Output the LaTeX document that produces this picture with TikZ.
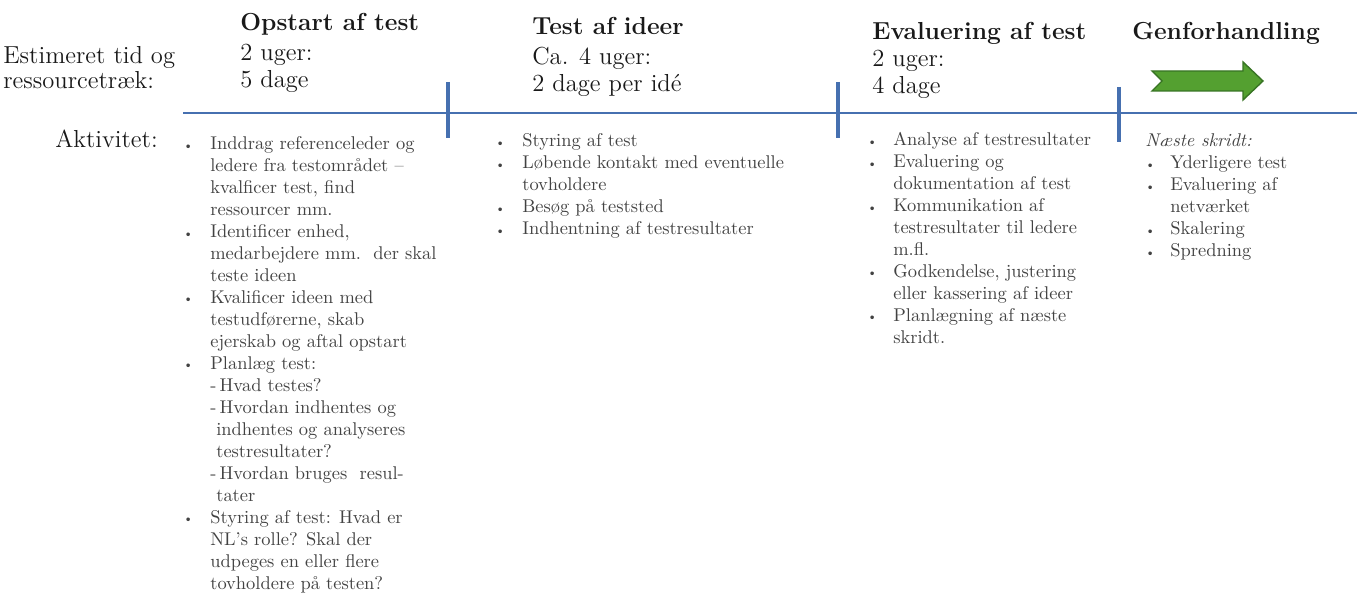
\documentclass[tikz,border=0pt]{standalone}
\usepackage{tikz}
\usetikzlibrary{positioning}

\definecolor{tlblue}{RGB}{70,112,176}
\definecolor{bodygrey}{RGB}{66,66,66}
\definecolor{arrgreen}{RGB}{84,160,48}
\definecolor{arrdark}{RGB}{56,116,36}

\newcommand{\bul}{\makebox[0.2cm]{\raisebox{0.1ex}{\scriptsize\textbullet}}}

\begin{document}
\begin{tikzpicture}[x=0.02cm, y=-0.02cm,
  hd/.style={anchor=base west, inner sep=0pt, text=black!90,
    font=\fontsize{14}{15.9}\selectfont\bfseries},
  tm/.style={anchor=base west, inner sep=0pt, align=left, text=black!90,
    font=\fontsize{14}{15.9}\selectfont},
  act/.style={anchor=base west, inner sep=0pt, text=bodygrey,
    font=\fontsize{10.5}{12.5}\selectfont},
  axis/.style={draw=tlblue, line width=1.6pt},
  tick/.style={draw=tlblue, line width=1.9pt}
]
\useasboundingbox (0,0) rectangle (1357,601);

% multi-line nodes sit on their last baseline
\node[tm, font=\fontsize{14}{14.7}\selectfont] (tidlbl) at (3,89)
  {Estimeret tid og\\ressourcetræk:};
\node[tm] (aktlbl) at (55,148) {Aktivitet:};

\node[hd] (headA) at (240,31) {Opstart af test};
\node[tm] (timeA) at (240,88) {2 uger:\\5 dage};
\node[hd] (headB) at (532,35) {Test af ideer};
\node[tm] (timeB) at (532,92) {Ca. 4 uger:\\2 dage per idé};
\node[hd] (headC) at (872,40) {Evaluering af test};
\node[tm] (timeC) at (872,94) {2 uger:\\4 dage};
\node[hd] (headD) at (1132,40) {Genforhandling};

% timeline
\coordinate (axL) at (183,113);
\coordinate (axR) at (1357,113);
\draw[axis] (axL) -- (axR);
\draw[tick] (448,82) -- (448,138);
\draw[tick] (838,82) -- (838,138);
\draw[tick] (1119,87) -- (1119,142);

\filldraw[fill=arrgreen, draw=arrdark, line width=0.8pt]
  (1152,71) -- (1243,71) -- (1243,62) -- (1263,81) -- (1243,100)
  -- (1243,91) -- (1152,91) -- (1162,81) -- cycle;

\node[act] (actA) at (183,150) {\begin{tabular}[t]{@{}l@{\hspace{0.34cm}}l@{}}
\bul & Inddrag referenceleder og\\
     & ledere fra testområdet –\\
     & kvalficer test, find\\
     & ressourcer mm.\\
\bul & Identificer enhed,\\
     & medarbejdere mm.\ \ der skal\\
     & teste ideen\\
\bul & Kvalificer ideen med\\
     & testudførerne, skab\\
     & ejerskab og aftal opstart\\
\bul & Planlæg test:\\
     & -\,Hvad testes?\\
     & -\,Hvordan indhentes og\\
     & \hspace*{0.12cm}indhentes og analyseres\\
     & \hspace*{0.12cm}testresultater?\\
     & -\,Hvordan bruges\ \ resul-\\
     & \hspace*{0.12cm}tater\\
\bul & Styring af test: Hvad er\\
     & NL's rolle? Skal der\\
     & udpeges en eller flere\\
     & tovholdere på testen?
\end{tabular}};

\node[act] (actB) at (495,147) {\begin{tabular}[t]{@{}l@{\hspace{0.34cm}}l@{}}
\bul & Styring af test\\
\bul & Løbende kontakt med eventuelle\\
     & tovholdere\\
\bul & Besøg på teststed\\
\bul & Indhentning af testresultater
\end{tabular}};

\node[act] (actC) at (867,146) {\begin{tabular}[t]{@{}l@{\hspace{0.32cm}}l@{}}
\bul & Analyse af testresultater\\
\bul & Evaluering og\\
     & dokumentation af test\\
\bul & Kommunikation af\\
     & testresultater til ledere\\
     & m.fl.\\
\bul & Godkendelse, justering\\
     & eller kassering af ideer\\
\bul & Planlægning af næste\\
     & skridt.
\end{tabular}};

\node[act] (actD) at (1145,147) {\begin{tabular}[t]{@{}l@{\hspace{0.30cm}}l@{}}
\multicolumn{2}{@{}l@{}}{\itshape Næste skridt:}\\
\bul & Yderligere test\\
\bul & Evaluering af\\
     & netværket\\
\bul & Skalering\\
\bul & Spredning
\end{tabular}};
\end{tikzpicture}
\end{document}
